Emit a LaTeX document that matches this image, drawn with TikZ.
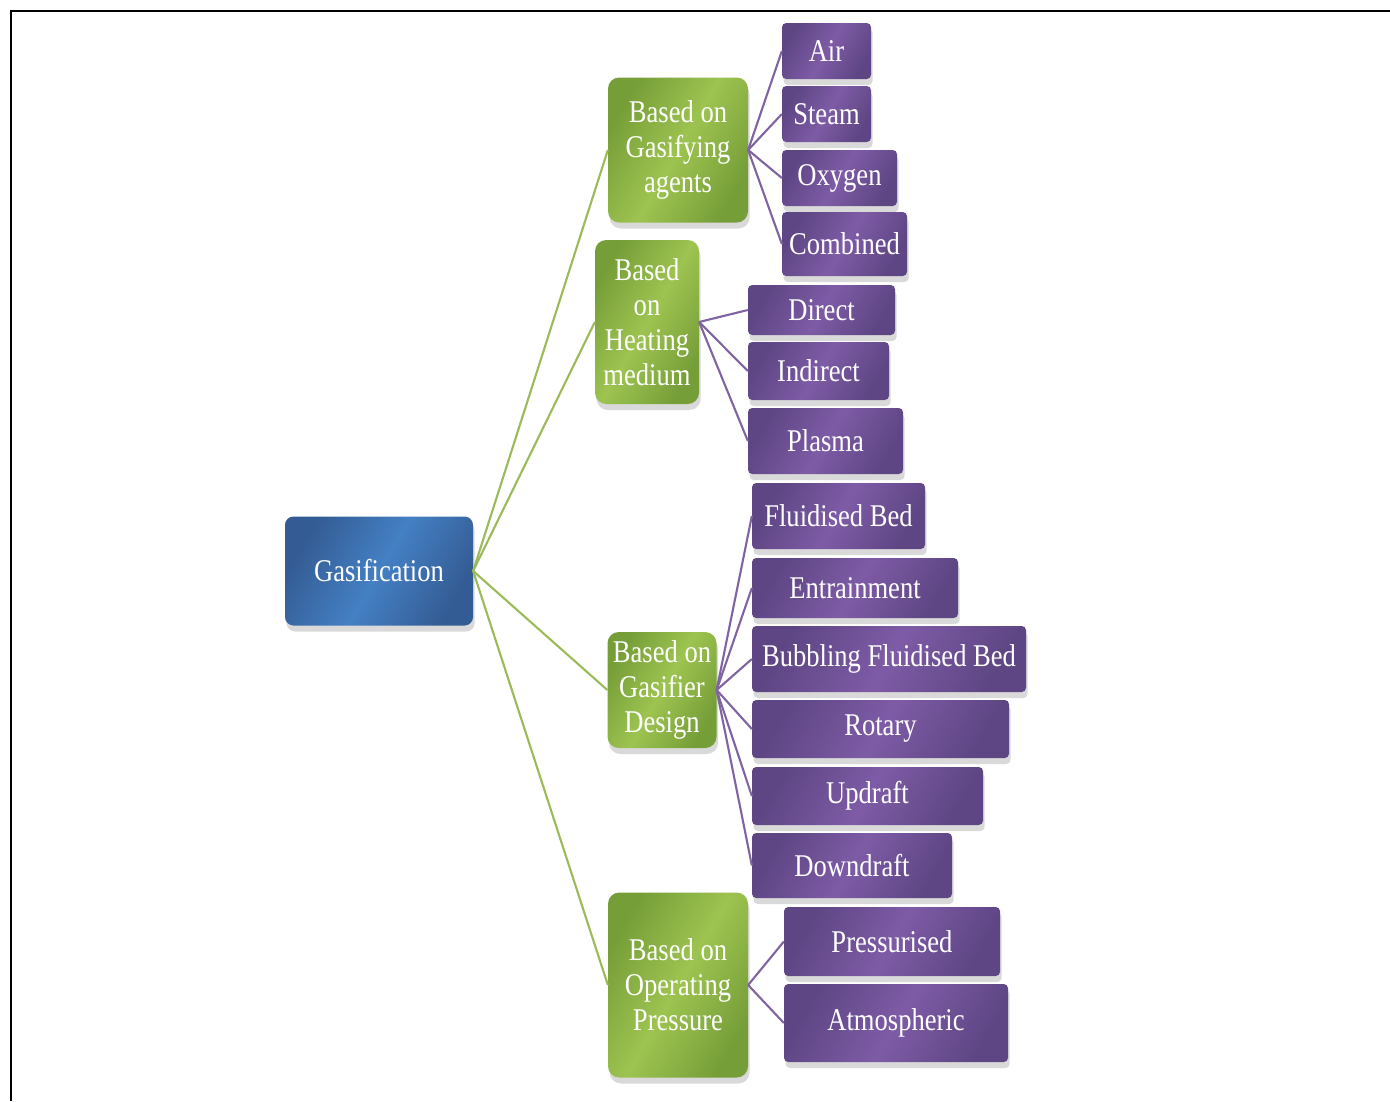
\documentclass[tikz,border=0pt]{standalone}
\usepackage{fontspec}
\setmainfont[FakeStretch=0.84]{Liberation Serif}
\usetikzlibrary{shadows}
\definecolor{blueD}{RGB}{52,92,148}
\definecolor{blueL}{RGB}{68,128,196}
\definecolor{greenD}{RGB}{118,158,56}
\definecolor{greenL}{RGB}{157,196,80}
\definecolor{purpD}{RGB}{94,70,132}
\definecolor{purpL}{RGB}{126,91,166}
\definecolor{greenln}{RGB}{155,187,89}
\definecolor{purpln}{RGB}{128,100,162}
\tikzset{
  boxsize/.style 2 args={minimum width=#1*0.05cm,minimum height=#2*0.05cm},
  basebox/.style={inner sep=0pt,align=center,text=white,
    font=\fontsize{45}{50}\selectfont,
    drop shadow={shadow xshift=0.08cm,shadow yshift=-0.3cm,opacity=0.3}},
  gasbox/.style={basebox,rounded corners=12pt,left color=blueD,right color=blueD,middle color=blueL,shading angle=60},
  catbox/.style={basebox,rounded corners=16pt,left color=greenD,right color=greenD,middle color=greenL,shading angle=60},
  leafbox/.style={basebox,rounded corners=6pt,left color=purpD,right color=purpD,middle color=purpL,shading angle=60},
  catline/.style={draw=greenln,line width=3pt},
  leafline/.style={draw=purpln,line width=3pt}
}

\begin{document}
\begin{tikzpicture}[x=0.05cm,y=-0.05cm]
\useasboundingbox (0,0) rectangle (1390,1101);
\draw[line width=2.6pt] (11,1101) -- (11,11) -- (1390,11);

\node[gasbox,boxsize={188}{109}] (gas) at (379,571) {Gasification};

\node[catbox,boxsize={140}{145}] (agents) at (678,150) {Based on\\Gasifying\\agents};
\node[catbox,boxsize={104}{164}] (heating) at (647,322) {Based\\on\\Heating\\medium};
\node[catbox,boxsize={109}{116}] (design) at (662,690) {Based on\\Gasifier\\Design};
\node[catbox,boxsize={140}{185}] (pressure) at (678,985) {Based on\\Operating\\Pressure};

\node[leafbox,boxsize={89}{56}] (air) at (826.5,51) {Air};
\node[leafbox,boxsize={89}{56}] (steam) at (826.5,114) {Steam};
\node[leafbox,boxsize={115}{56}] (oxygen) at (839.5,178) {Oxygen};
\node[leafbox,boxsize={125}{64}] (combined) at (844.5,244) {Combined};

\node[leafbox,boxsize={147}{50}] (direct) at (821.5,310) {Direct};
\node[leafbox,boxsize={141}{58}] (indirect) at (818.5,371) {Indirect};
\node[leafbox,boxsize={155}{66}] (plasma) at (825.5,441) {Plasma};

\node[leafbox,boxsize={173}{66}] (fluid) at (838.5,516) {Fluidised Bed};
\node[leafbox,boxsize={206}{60}] (entrain) at (855,588) {Entrainment};
\node[leafbox,boxsize={274}{66}] (bubbling) at (889,659) {Bubbling Fluidised Bed};
\node[leafbox,boxsize={257}{58}] (rotary) at (880.5,729) {Rotary};
\node[leafbox,boxsize={231}{58}] (updraft) at (867.5,796) {Updraft};
\node[leafbox,boxsize={200}{65}] (downdraft) at (852,865.5) {Downdraft};

\node[leafbox,boxsize={216}{69}] (pressurised) at (892,941.5) {Pressurised};
\node[leafbox,boxsize={224}{78}] (atmospheric) at (896,1023) {Atmospheric};

\foreach \cat in {agents,heating,design,pressure}
  \draw[catline] (gas.east) -- (\cat.west);
\foreach \leaf in {air,steam,oxygen,combined}
  \draw[leafline] (agents.east) -- (\leaf.west);
\foreach \leaf in {direct,indirect,plasma}
  \draw[leafline] (heating.east) -- (\leaf.west);
\foreach \leaf in {fluid,entrain,bubbling,rotary,updraft,downdraft}
  \draw[leafline] (design.east) -- (\leaf.west);
\foreach \leaf in {pressurised,atmospheric}
  \draw[leafline] (pressure.east) -- (\leaf.west);
\end{tikzpicture}
\end{document}
